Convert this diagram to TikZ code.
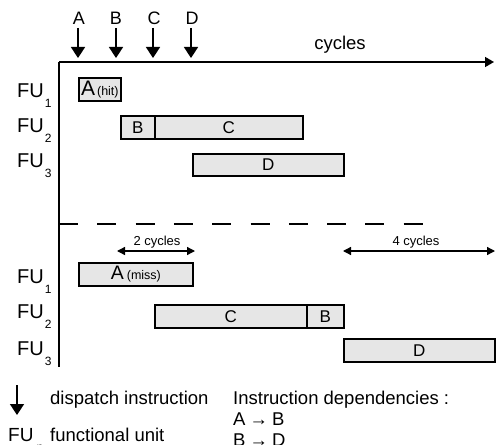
\documentclass[tikz,border=0pt]{standalone}
\usepackage{fontspec}
\setmainfont{Liberation Sans}
\usetikzlibrary{arrows.meta}
\definecolor{boxgray}{HTML}{E6E6E6}
\newcommand{\fsz}[1]{\fontsize{#1}{#1}\selectfont}
\begin{document}
\begin{tikzpicture}[x=1pt,y=-1pt,
  box/.style={draw, line width=1.7pt, fill=boxgray, inner sep=0pt, anchor=north west, font=\fsz{17}},
  lbl/.style={inner sep=0pt, font=\fsz{18}},
  fulbl/.style={inner sep=0pt, anchor=base west, font=\fsz{20}},
  legtxt/.style={inner sep=0pt, anchor=base west, font=\fsz{18.5}},
  small/.style={inner sep=0pt, anchor=base, font=\fsz{13}},
  disp/.style={line width=1.6pt, -{Triangle[width=14pt,length=11pt]}},
  axis/.style={line width=1.6pt},
  span/.style={line width=1.3pt, {Triangle[width=8pt,length=8pt]}-{Triangle[width=8pt,length=8pt]}}]
\useasboundingbox (0,0) rectangle (497,444);

% dispatch letters and arrows
\node[lbl] (la) at (79,18) {A};
\node[lbl] (lb) at (116,18) {B};
\node[lbl] (lc) at (154,18) {C};
\node[lbl] (ld) at (192,18) {D};
\coordinate (ta) at (78,58);
\coordinate (tb) at (116,58);
\coordinate (tc) at (153,58);
\coordinate (td) at (191,58);
\draw[disp] (78,28) -- (ta);
\draw[disp] (116,28) -- (tb);
\draw[disp] (153,28) -- (tc);
\draw[disp] (191,28) -- (td);

% axes
\coordinate (origin) at (59,62);
\coordinate (xend) at (494,62);
\coordinate (yend) at (59,367);
\draw[axis, -{Triangle[width=10pt,length=9pt]}] (origin) -- (xend);
\draw[axis] (origin) -- (yend);
\node[inner sep=0pt, font=\fsz{18.5}] (cyc) at (340,45) {cycles};

% dashed separator
\coordinate (ds) at (59,224);
\coordinate (de) at (424,224);
\draw[line width=1.6pt, dash pattern=on 19pt off 19.3pt] (ds) -- (de);

% FU labels upper
\node[fulbl] (fu1a) at (17,97) {FU\hspace{1pt}\raisebox{-10pt}{\fsz{12}1}};
\node[fulbl] (fu2a) at (17,132) {FU\hspace{1pt}\raisebox{-10pt}{\fsz{12}2}};
\node[fulbl] (fu3a) at (17,167) {FU\hspace{1pt}\raisebox{-10pt}{\fsz{12}3}};
% FU labels lower
\node[fulbl] (fu1b) at (17,283) {FU\hspace{1pt}\raisebox{-10pt}{\fsz{12}1}};
\node[fulbl] (fu2b) at (17,318) {FU\hspace{1pt}\raisebox{-10pt}{\fsz{12}2}};
\node[fulbl] (fu3b) at (17,355) {FU\hspace{1pt}\raisebox{-10pt}{\fsz{12}3}};

% upper boxes
\node[box, minimum width=42pt, minimum height=23pt] (ahit) at (78,77) {\fsz{21}A\hspace{2pt}\fsz{12.5}(hit)};
\node[box, minimum width=34pt, minimum height=23pt] (bu) at (120,115) {B};
\node[box, minimum width=148pt, minimum height=23pt] (cu) at (154,115) {C};
\node[box, minimum width=151pt, minimum height=22pt] (du) at (192,153) {D};

% spans
\coordinate (s2a) at (117,251);
\coordinate (s2b) at (195,251);
\coordinate (s4a) at (343,251);
\coordinate (s4b) at (495,251);
\draw[span] (s2a) -- (s2b);
\draw[span] (s4a) -- (s4b);
\node[small] (t2) at (157,245) {2 cycles};
\node[small] (t4) at (416,245) {4 cycles};

% lower boxes
\node[box, minimum width=114pt, minimum height=23pt] (amiss) at (78,262) {\fsz{19.5}A\hspace{3pt}\fsz{12.5}(miss)};
\node[box, minimum width=152pt, minimum height=23pt] (cl) at (154,304) {C};
\node[box, minimum width=37pt, minimum height=23pt] (bl) at (306,304) {B};
\node[box, minimum width=151pt, minimum height=23pt] (dl) at (343,338) {D};

% legend
\coordinate (la1) at (17,385);
\coordinate (la2) at (17,415);
\draw[disp] (la1) -- (la2);
\node[legtxt] (leg1) at (50,404) {dispatch instruction};
\node[fulbl, font=\fsz{19}] (legfu) at (8,441) {FU\hspace{3pt}\raisebox{-10pt}{\fsz{12}n}};
\node[legtxt] (leg2) at (50,441) {functional unit};
\node[legtxt] (dep0) at (233,404) {Instruction dependencies :};
\node[legtxt] (dep1) at (233,425) {A\hspace{4pt}→\hspace{4pt}B};
\node[legtxt] (dep2) at (233,446) {B\hspace{4pt}→\hspace{4pt}D};
\end{tikzpicture}
\end{document}
